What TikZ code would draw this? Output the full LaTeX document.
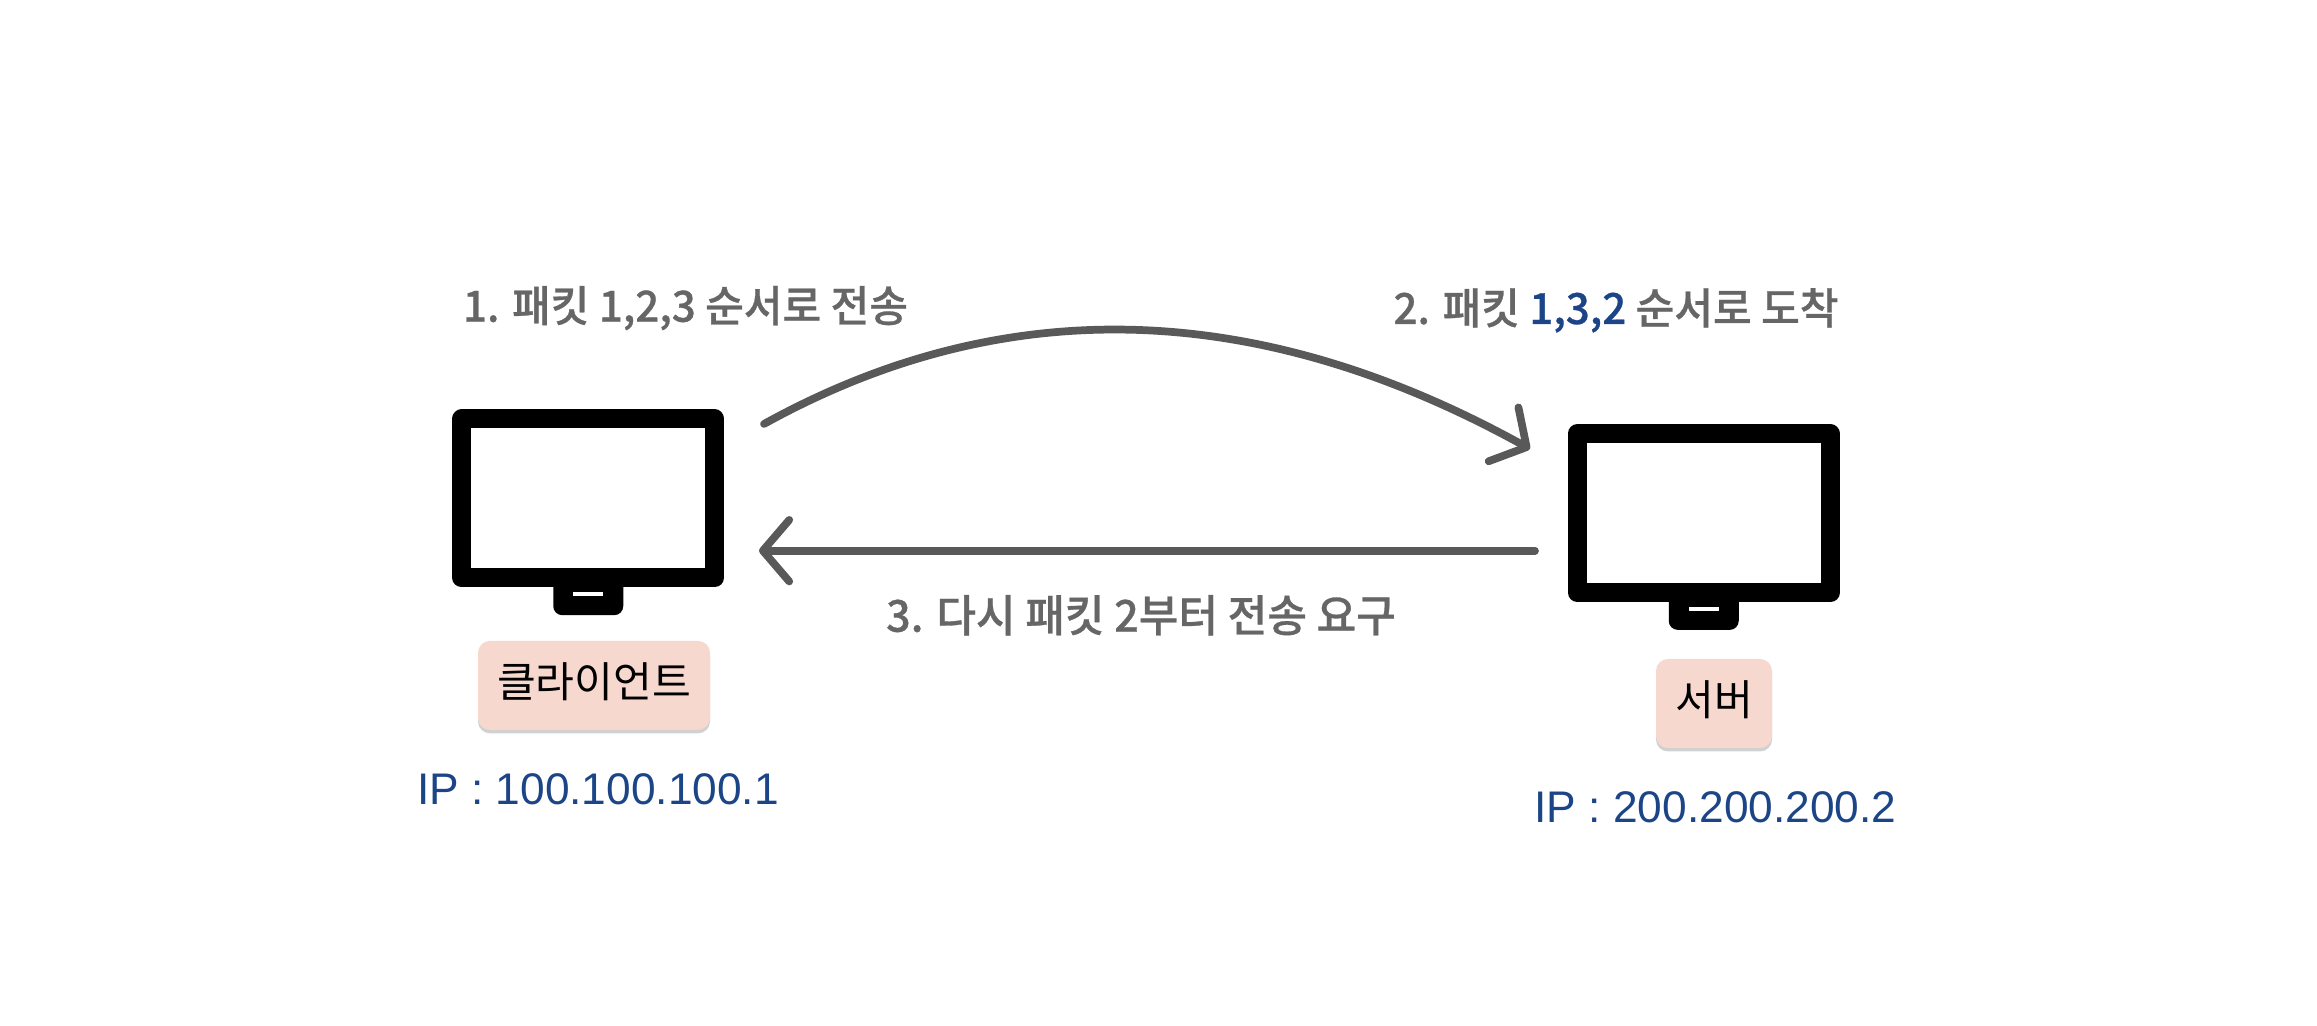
\documentclass[tikz,border=0pt]{standalone}
\usepackage{fontspec}
\usepackage{xcolor}
\usepackage{tikz}
\usetikzlibrary{arrows.meta,positioning,calc,shadows}
\setmainfont{Liberation Sans}
\newfontfamily\krfont{Noto Sans CJK KR}
\newfontfamily\krboldfont[FakeStretch=0.98,FakeBold=0.7]{Noto Sans CJK KR Medium}
\definecolor{linegray}{HTML}{595959}
\definecolor{labelgray}{HTML}{666666}
\definecolor{ipblue}{HTML}{1C4587}
\definecolor{tagpink}{HTML}{F7D8CE}
\tikzset{
  screenbox/.style={draw=black,fill=white,line width=0.19cm,line join=round,minimum width=2.72cm,minimum height=1.78cm,inner sep=0pt,outer sep=0pt},
  standbox/.style={fill=black,rounded corners=0.09cm,minimum width=0.70cm,minimum height=0.41cm,inner sep=0pt},
  slotbox/.style={fill=white,minimum width=0.30cm,minimum height=0.035cm,inner sep=0pt},
  tagbox/.style={fill=tagpink,rounded corners=0.12cm,inner sep=0pt,minimum height=0.89cm,text height=10.5pt,text depth=3.5pt,font=\krfont\fontsize{12pt}{14pt}\selectfont,drop shadow={shadow xshift=0pt,shadow yshift=-1pt,opacity=0.18,fill=black}},
  iplabel/.style={text=ipblue,font=\fontsize{12.6pt}{15pt}\selectfont},
  steplabel/.style={anchor=base,text=labelgray,font=\krboldfont\fontsize{12.2pt}{15pt}\selectfont},
  arrowline/.style={draw=linegray,line width=2.2pt,line cap=round,-{Straight Barb[length=7.5pt,width=17.5pt,round]}},
}
\begin{document}
\begin{tikzpicture}
  \useasboundingbox (0,0) rectangle (23.17,10.26);
  % monitors
  \foreach \name/\x/\y in {client/5.8825/5.275,server/17.0375/5.128}{
    \node[screenbox,minimum width=2.53cm,minimum height=1.59cm] (\name) at (\x,\y) {};
    \node[standbox,below=-0.045cm of \name.south] (\name stand) {};
    \node[slotbox,below=0.137cm of \name.south] (\name slot) {};
  }
  % tags
  \node[tagbox,minimum width=2.32cm] (clienttag) at (5.94,3.406) {클라이언트};
  \node[tagbox,minimum width=1.16cm] (servertag) at (17.14,3.225) {서버};
  \node[iplabel] (clientip) at (5.98,2.37) {IP : 100.100.100.1};
  \node[iplabel] (serverip) at (17.155,2.19) {IP : 200.200.200.2};
  % connectors
  \coordinate (sendstart) at (7.64,6.02);
  \coordinate (sendend) at (15.30,5.77);
  \coordinate (askstart) at (15.35,4.753);
  \coordinate (askend) at (7.59,4.753);
  \draw[arrowline] (sendstart) .. controls (10.19,7.43) and (12.75,7.18) .. (sendend);
  \draw[arrowline] (askstart) -- (askend);
  % steps
  \node[steplabel] (stepone) at (6.855,7.043) {1. 패킷 1,2,3 순서로 전송};
  \node[steplabel] (steptwo) at (16.16,7.02) {2. 패킷 \textcolor{ipblue}{1,3,2} 순서로 도착};
  \node[steplabel,font=\krboldfont\fontsize{12.5pt}{15pt}\selectfont] (stepthree) at (11.41,3.943) {3. 다시 패킷 2부터 전송 요구};
\end{tikzpicture}
\end{document}
